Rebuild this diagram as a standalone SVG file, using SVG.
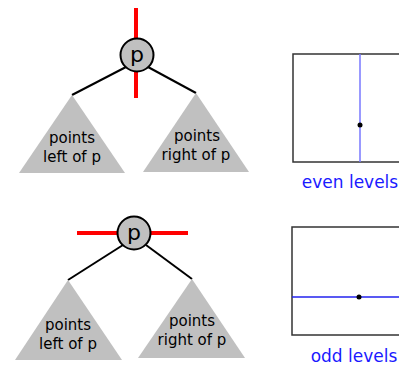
<svg xmlns="http://www.w3.org/2000/svg" width="399" height="367" viewBox="0 0 399 367">
<style>
.edge{stroke:#000;stroke-width:2;fill:none}
.cut{stroke:#ff0000;stroke-width:4}
.node{fill:#c0c0c0;stroke:#000;stroke-width:2}
.tri{fill:#c0c0c0}
.lbl{font-family:"Comic Sans MS","DejaVu Sans",sans-serif;font-size:15px;fill:#000;text-anchor:middle}
.p{font-family:"Comic Sans MS","DejaVu Sans",sans-serif;font-size:22px;fill:#000;text-anchor:middle}
.box{fill:#fff;stroke:#333;stroke-width:1.5}
.cap{font-family:"Comic Sans MS","DejaVu Sans",sans-serif;font-size:17px;fill:#1a1aff;text-anchor:middle}
</style>
<rect width="399" height="367" fill="#fff"/>
<g id="connectors">
<line class="edge" x1="126" y1="67" x2="72" y2="95"/>
<line class="edge" x1="148" y1="67" x2="196" y2="93"/>
<line class="edge" x1="123" y1="245" x2="68" y2="280"/>
<line class="edge" x1="146" y1="245" x2="192" y2="279"/>
</g>
<g id="tri-left-top"><polygon class="tri" points="72,95 19,173 125,173"/>
<text class="lbl" x="72" y="143">points</text><text class="lbl" x="72" y="162">left of p</text></g>
<g id="tri-right-top"><polygon class="tri" points="196,93 143,172 249,172"/>
<text class="lbl" x="197" y="141">points</text><text class="lbl" x="196" y="160">right of p</text></g>
<g id="node-top">
<line class="cut" x1="136" y1="8" x2="136" y2="98"/>
<circle class="node" cx="137" cy="55" r="16.5"/>
<line class="cut" x1="136" y1="73" x2="136" y2="98"/>
<text class="p" x="137" y="62">p</text></g>
<g id="tri-left-bottom"><polygon class="tri" points="68,280 15,360 122,360"/>
<text class="lbl" x="68" y="330">points</text><text class="lbl" x="68" y="349">left of p</text></g>
<g id="tri-right-bottom"><polygon class="tri" points="192,279 138,358 245,358"/>
<text class="lbl" x="192" y="326">points</text><text class="lbl" x="192" y="345">right of p</text></g>
<g id="node-bottom">
<line class="cut" x1="77" y1="233" x2="188" y2="233"/>
<circle class="node" cx="134" cy="233" r="16.5"/>
<text class="p" x="134" y="240">p</text></g>
<g id="even">
<rect class="box" x="293" y="54" width="120" height="108"/>
<line x1="360" y1="54" x2="360" y2="162" stroke="#7777ff" stroke-width="1.5"/>
<circle cx="360" cy="125" r="2.5" fill="#000"/>
<text class="cap" x="350" y="188">even levels</text></g>
<g id="odd">
<rect class="box" x="292" y="227" width="120" height="108"/>
<line x1="292" y1="297" x2="399" y2="297" stroke="#2222ee" stroke-width="1.5"/>
<circle cx="359" cy="297" r="2.5" fill="#000"/>
<text class="cap" x="354" y="362">odd levels</text></g>
</svg>
